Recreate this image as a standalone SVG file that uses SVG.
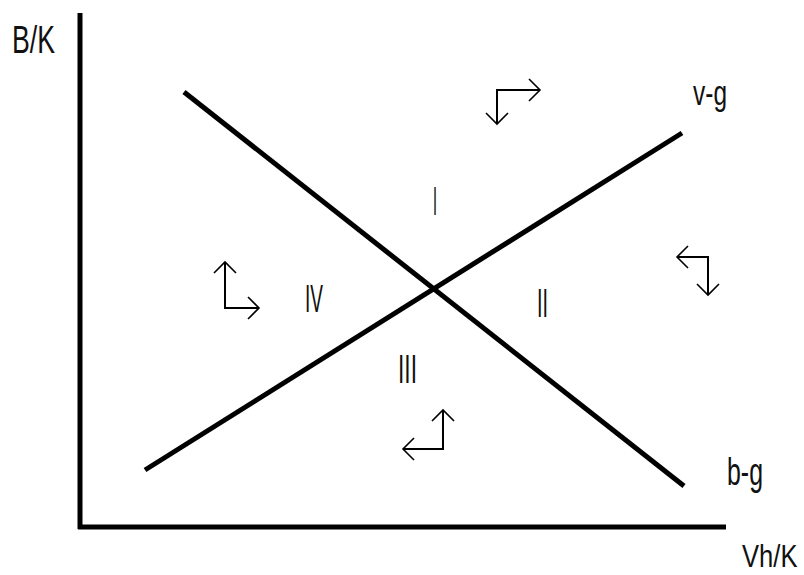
<svg xmlns="http://www.w3.org/2000/svg" width="804" height="575" viewBox="0 0 804 575">
<style>
.ax{stroke:#000;stroke-width:5;fill:none}
.ln{stroke:#000;stroke-width:5;fill:none;stroke-linecap:butt}
.ar{stroke:#000;stroke-width:2;fill:none;marker-end:url(#v)}
text{font-family:"Liberation Sans",Arial,sans-serif;font-size:38px;fill:#111}
</style>
<defs>
<marker id="v" markerUnits="userSpaceOnUse" markerWidth="30" markerHeight="30" viewBox="-15 -15 30 30" refX="0" refY="0" orient="auto">
<path d="M-11,-11 L0,0 L-11,11" stroke="#000" stroke-width="1.6" fill="none"/>
</marker>
</defs>
<rect width="804" height="575" fill="#fff"/>
<g id="axes">
<line class="ax" x1="80" y1="13" x2="80" y2="529"/>
<line class="ax" x1="78" y1="527" x2="726" y2="527"/>
</g>
<g id="connectors">
<line class="ln" x1="184" y1="92" x2="684" y2="486"/>
<line class="ln" x1="145" y1="470" x2="682" y2="133"/>
</g>
<g id="arrows">
<g id="arrow-top">
<line class="ar" x1="497" y1="90" x2="540" y2="90"/>
<line class="ar" x1="497" y1="89" x2="497" y2="124"/>
</g>
<g id="arrow-left">
<line class="ar" x1="225" y1="308" x2="225" y2="262"/>
<line class="ar" x1="224" y1="308" x2="259" y2="308"/>
</g>
<g id="arrow-right">
<line class="ar" x1="708" y1="257" x2="677" y2="257"/>
<line class="ar" x1="708" y1="256" x2="708" y2="295"/>
</g>
<g id="arrow-bottom">
<line class="ar" x1="443" y1="449" x2="443" y2="410"/>
<line class="ar" x1="444" y1="449" x2="403" y2="449"/>
</g>
</g>
<g id="labels">
<text x="12" y="53" textLength="43" lengthAdjust="spacingAndGlyphs">B/K</text>
<text x="693" y="105" textLength="34" lengthAdjust="spacingAndGlyphs" style="font-size:35px">v-g</text>
<text x="727" y="485" textLength="36" lengthAdjust="spacingAndGlyphs">b-g</text>
<text transform="translate(742,567) scale(0.8,1)" x="0" y="0" style="font-size:32px">Vh/K</text>
<text x="433" y="215" textLength="4" lengthAdjust="spacingAndGlyphs" style="font-size:41px">I</text>
<text x="305" y="312" textLength="18" lengthAdjust="spacingAndGlyphs">IV</text>
<text x="537" y="317" textLength="11" lengthAdjust="spacingAndGlyphs" style="font-size:41px">II</text>
<text x="398" y="383" textLength="19" lengthAdjust="spacingAndGlyphs" style="font-size:41px">III</text>
</g>
</svg>
